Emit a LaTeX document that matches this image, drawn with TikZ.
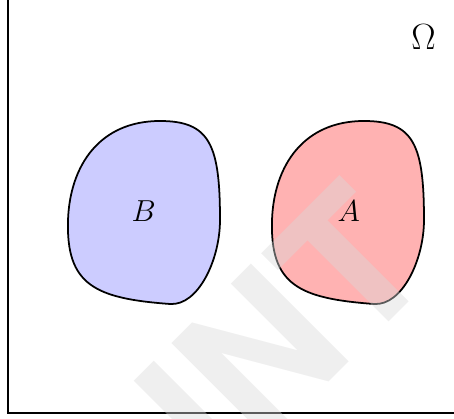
\documentclass[tikz,border=0pt]{standalone}
\usepackage{fontspec}
\newfontfamily\wmfont{TeX Gyre Heros}
\usepackage{tikz}
\usetikzlibrary{positioning, calc}
\definecolor{setblue}{RGB}{204, 204, 255}
\definecolor{setred}{RGB}{255, 178, 178}
% outline of one set, drawn twice
\newcommand{\setblob}{(3.20, 5.96)
    .. controls (4.20, 5.96) and (4.40, 5.48) .. (4.40, 3.98)
    .. controls (4.40, 3.18) and (3.96, 2.26) .. (3.40, 2.30)
    .. controls (1.90, 2.41) and (1.32, 2.68) .. (1.36, 3.98)
    .. controls (1.40, 5.08) and (2.00, 5.96) .. cycle}
\begin{document}
\begin{tikzpicture}[
        frame/.style={draw, line width=1pt},
        blob/.style={draw, line width=1pt},
        lbl/.style={inner sep=0pt, font=\LARGE},
        wmark/.style={inner sep=0pt, rotate=45, text=gray!30, text opacity=0.42,
                      font=\wmfont\bfseries\fontsize{108}{108}\selectfont}
      ]
        \useasboundingbox (0, 0) rectangle (9.08, 8.38);
        \clip (0, 0) rectangle (9.08, 8.38);
        \draw[frame] (0.16, 0.12) rectangle (9.5, 8.39);

        \draw[blob, fill=setblue] \setblob;
        \begin{scope}[xshift=4.08cm]
          \draw[blob, fill=setred] \setblob;
        \end{scope}

        \node[lbl] (setB) at (2.876, 4.154) {$B$};
        \node[lbl] (setA) at (6.976, 4.154) {$A$};
        \node[inner sep=0pt, font=\huge] (omega) at (8.47, 7.63) {$\Omega$};

        \node[wmark, anchor=base] (stamp) at (6.63, 0.79) {INT};
      \end{tikzpicture}
\end{document}
